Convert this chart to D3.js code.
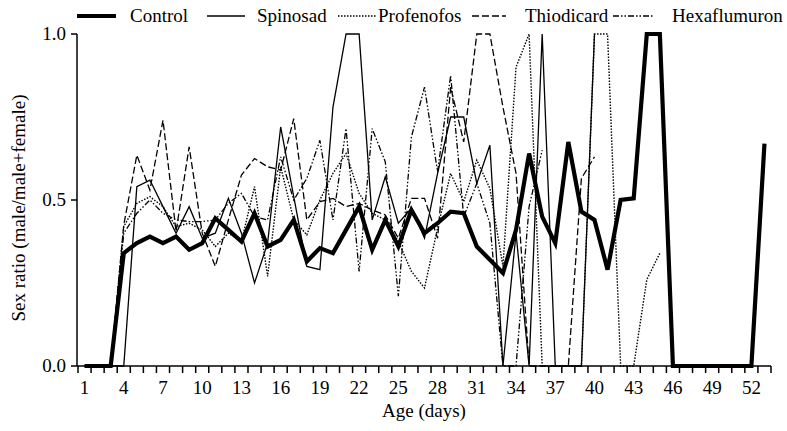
<!DOCTYPE html>
<html><head><meta charset="utf-8">
<script src="https://cdn.jsdelivr.net/npm/d3@7"></script>
<style>body{margin:0;background:#fff}svg{display:block}</style>
</head><body><svg id="c" width="787" height="431"></svg>
<script>
const days = d3.range(1, 54);
const xTickLabels = [1,4,7,10,13,16,19,22,25,28,31,34,37,40,43,46,49,52];
const yTickLabels = ["0.0","0.5","1.0"];
const yTickValues = [0,0.5,1];
const seriesNames = ["Control","Spinosad","Profenofos","Thiodicard","Hexaflumuron"];
const N = null;
const control = [0,0,0,0.34,0.37,0.39,0.37,0.39,0.35,0.37,0.445,0.41,0.375,0.46,0.36,0.38,0.44,0.315,0.355,0.34,0.41,0.48,0.35,0.44,0.36,0.47,0.40,0.43,0.465,0.46,0.36,0.32,0.28,0.41,0.64,0.45,0.37,0.675,0.465,0.44,0.29,0.50,0.505,1,1,0,0,0,0,0,0,0,0.67];
const spinosad = [0,0,0,0,0.54,0.56,0.48,0.40,0.48,0.385,0.40,0.505,0.40,0.25,0.37,0.72,0.51,0.30,0.29,0.78,1,1,0.44,0.57,0.43,0.475,0.385,0.58,0.75,0.75,0.55,0.665,0,0.40,0,1,0,0,0,1,N,N,N,N,N,N,N,N,N,N,N,N,N];
const profenofos = [0,0,0,0.42,0.49,0.51,0.48,0.42,0.43,0.41,0.36,0.40,0.375,0.54,0.27,0.60,0.44,0.395,0.50,0.58,0.64,0.52,0.46,0.44,0.375,0.285,0.235,0.415,0.58,0.495,0.62,0.535,0.30,0.90,1,0,0,0,0,1,1,0,0,0.26,0.34,N,N,N,N,N,N,N,N];
const thiodicard = [0,0,0,0.425,0.635,0.53,0.74,0.405,0.66,0.40,0.30,0.44,0.575,0.625,0.60,0.59,0.745,0.44,0.495,0.505,0.48,0.49,0.47,0.455,0.385,0.505,0.505,0.385,0.84,0.675,1,1,0.78,0.58,0,0,0,0,0.565,0.63,N,N,N,N,N,N,N,N,N,N,N,N,N];
const hexaflumuron = [0,0,0,0.40,0.46,0.50,0.46,0.44,0.435,0.435,0.44,0.49,0.52,0.45,0.44,0.63,0.50,0.565,0.68,0.44,0.715,0.285,0.715,0.615,0.21,0.69,0.84,0.585,0.875,0.45,0.55,0.43,0,0,0.48,0.65,N,N,N,N,N,N,N,N,N,N,N,N,N,N,N,N,N];

const seriesData = [control, spinosad, profenofos, thiodicard, hexaflumuron];
const styles = [
  {w:4.2, dash:null},
  {w:1.3, dash:null},
  {w:1.4, dash:"1.5,1.5"},
  {w:1.3, dash:"7,3"},
  {w:1.3, dash:"6,2,1.5,2,1.5,2"}
];
const FONT = "Liberation Serif, Times New Roman, serif";

const svg = d3.select("#c");
svg.append("rect").attr("width",787).attr("height",431).attr("fill","#fff");
const x = d3.scaleLinear().domain([0.5, 53.5]).range([78, 771]);
const y = d3.scaleLinear().domain([0, 1]).range([366, 34]);

const line = d3.line().defined(d => d[1] != null).x(d => x(d[0])).y(d => y(d[1]));
seriesData.forEach((arr, i) => {
  const pts = days.map((d, j) => [d, arr[j]]);
  svg.append("path").attr("d", line(pts)).attr("fill","none").attr("stroke","#000")
    .attr("stroke-width", styles[i].w).attr("stroke-dasharray", styles[i].dash)
    .attr("stroke-linejoin","miter").attr("stroke-miterlimit", 4);
});

// x axis
const ax = svg.append("g");
ax.append("line").attr("x1",77).attr("x2",x(53.5)).attr("y1",y(0)).attr("y2",y(0)).attr("stroke","#000").attr("stroke-width",1.5);
d3.range(0.5, 54, 1).forEach(t => {
  ax.append("line").attr("x1",x(t)).attr("x2",x(t)).attr("y1",y(0)).attr("y2",y(0)+7).attr("stroke","#000").attr("stroke-width",1.5);
});
xTickLabels.forEach(t => {
  ax.append("text").attr("x",x(t)).attr("y",394).attr("text-anchor","middle").attr("font-family",FONT).attr("font-size",19).text(t);
});
svg.append("text").attr("x",424).attr("y",417).attr("text-anchor","middle").attr("font-family",FONT).attr("font-size",19).text("Age (days)");

// y axis
const ay = svg.append("g");
ay.append("line").attr("x1",77).attr("x2",77).attr("y1",y(1)).attr("y2",y(0)).attr("stroke","#000").attr("stroke-width",1.5);
yTickValues.forEach((v,i) => {
  ay.append("line").attr("x1",71).attr("x2",77).attr("y1",y(v)).attr("y2",y(v)).attr("stroke","#000").attr("stroke-width",1.5);
  ay.append("text").attr("x",66).attr("y",y(v)+6).attr("text-anchor","end").attr("font-family",FONT).attr("font-size",19).text(yTickLabels[i]);
});
svg.append("text").attr("transform","translate(25,208) rotate(-90)").attr("text-anchor","middle").attr("font-family",FONT).attr("font-size",19).text("Sex ratio (male/male+female)");

// legend
const legendItems = [
  {lx1:77, lx2:116, tx:130},
  {lx1:207, lx2:245, tx:257},
  {lx1:338, lx2:376, tx:378},
  {lx1:472, lx2:506, tx:525},
  {lx1:613, lx2:653, tx:672}
];
legendItems.forEach((p,i) => {
  svg.append("line").attr("x1",p.lx1).attr("x2",p.lx2).attr("y1",16).attr("y2",16).attr("stroke","#000")
    .attr("stroke-width", styles[i].w).attr("stroke-dasharray", styles[i].dash);
  svg.append("text").attr("x",p.tx).attr("y",22).attr("font-family",FONT).attr("font-size",19).text(seriesNames[i]);
});
</script></body></html>
